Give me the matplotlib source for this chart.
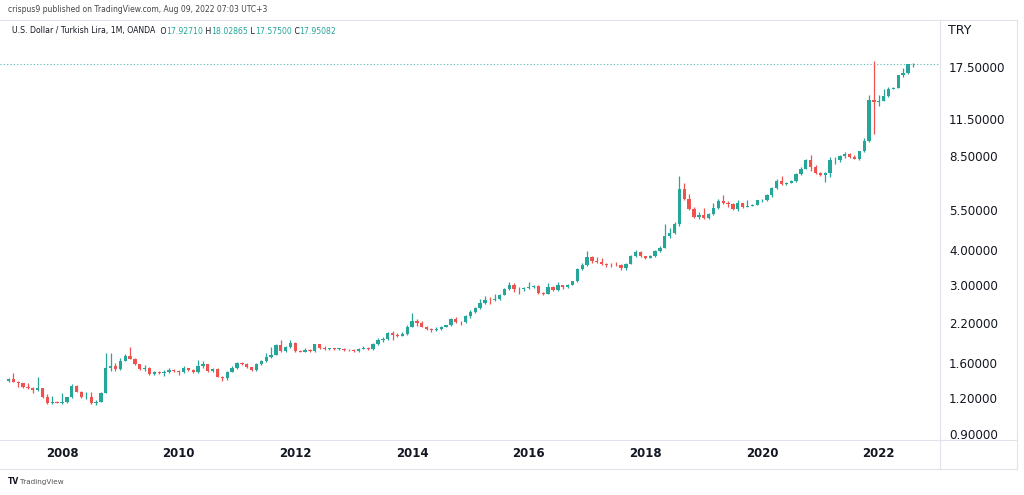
import numpy as np
import pandas as pd
import matplotlib
matplotlib.use("Agg")
import matplotlib.pyplot as plt
from matplotlib.lines import Line2D
from matplotlib.ticker import FixedLocator, NullLocator

# USD/TRY, velas mensuales (OANDA), desde feb-2007 hasta ago-2022
first_month = "2007-02"

opens = [1.382, 1.404, 1.374, 1.356, 1.315, 1.305, 1.280, 1.300, 1.210, 1.158, 1.168,
         1.158, 1.166, 1.210, 1.330, 1.267, 1.211, 1.218, 1.154, 1.170, 1.258, 1.530, 1.560,
         1.520, 1.628, 1.695, 1.650, 1.580, 1.518, 1.530, 1.458, 1.490, 1.475, 1.490, 1.515,
         1.495, 1.480, 1.530, 1.515, 1.480, 1.560, 1.580, 1.500, 1.520, 1.432, 1.420, 1.490,
         1.535, 1.594, 1.585, 1.545, 1.512, 1.590, 1.620, 1.680, 1.710, 1.850, 1.760, 1.820,
         1.885, 1.765, 1.750, 1.780, 1.758, 1.860, 1.800, 1.790, 1.800, 1.790, 1.790, 1.778,
         1.770, 1.755, 1.795, 1.805, 1.785, 1.865, 1.925, 1.945, 2.040, 2.010, 1.990, 2.020,
         2.140, 2.250, 2.210, 2.140, 2.100, 2.085, 2.100, 2.140, 2.170, 2.280, 2.225, 2.218,
         2.330, 2.420, 2.500, 2.600, 2.665, 2.655, 2.680, 2.770, 2.910, 3.010, 2.915, 2.905,
         2.920, 2.960, 2.970, 2.820, 2.800, 2.950, 2.880, 2.990, 2.960, 3.000, 3.090, 3.430,
         3.520, 3.760, 3.640, 3.630, 3.550, 3.535, 3.520, 3.515, 3.450, 3.560, 3.800, 3.935,
         3.790, 3.740, 3.800, 3.960, 4.060, 4.480, 4.570, 4.910, 6.550, 6.020, 5.560, 5.200,
         5.290, 5.150, 5.330, 5.600, 5.940, 5.810, 5.780, 5.560, 5.810, 5.650, 5.710, 5.750,
         5.950, 5.990, 6.220, 6.580, 6.970, 6.790, 6.850, 6.970, 7.350, 7.700, 8.280, 7.820,
         7.430, 7.300, 7.420, 8.230, 8.270, 8.500, 8.690, 8.450, 8.330, 8.850, 9.600, 13.400,
         13.150, 13.330, 13.850, 14.700, 14.830, 16.400, 16.650, 17.92710]

highs = [1.420, 1.470, 1.380, 1.362, 1.360, 1.312, 1.430, 1.310, 1.240, 1.220, 1.178,
         1.250, 1.215, 1.345, 1.340, 1.275, 1.265, 1.260, 1.180, 1.265, 1.730, 1.735, 1.600,
         1.660, 1.720, 1.823, 1.670, 1.590, 1.570, 1.550, 1.500, 1.500, 1.510, 1.530, 1.520,
         1.510, 1.560, 1.540, 1.520, 1.640, 1.620, 1.590, 1.530, 1.530, 1.440, 1.500, 1.560,
         1.610, 1.610, 1.600, 1.550, 1.600, 1.640, 1.730, 1.820, 1.870, 1.920, 1.840, 1.920,
         1.900, 1.780, 1.800, 1.790, 1.870, 1.870, 1.830, 1.810, 1.810, 1.810, 1.800, 1.790,
         1.790, 1.810, 1.830, 1.820, 1.880, 1.960, 1.970, 2.060, 2.070, 2.030, 2.050, 2.170,
         2.390, 2.280, 2.250, 2.150, 2.120, 2.140, 2.150, 2.180, 2.290, 2.310, 2.250, 2.350,
         2.450, 2.520, 2.670, 2.740, 2.720, 2.800, 2.790, 2.920, 3.070, 3.050, 2.950, 2.960,
         3.080, 3.000, 2.990, 2.840, 3.040, 2.980, 3.070, 3.000, 3.020, 3.110, 3.450, 3.590,
         3.940, 3.800, 3.760, 3.720, 3.600, 3.580, 3.630, 3.550, 3.590, 3.830, 3.990, 3.950,
         3.810, 3.840, 3.980, 4.100, 4.920, 4.770, 4.980, 7.220, 6.850, 6.250, 5.620, 5.400,
         5.600, 5.360, 5.830, 6.000, 6.240, 5.920, 5.830, 5.990, 5.850, 5.960, 5.800, 5.990,
         6.030, 6.260, 6.640, 7.050, 7.250, 6.900, 7.000, 7.420, 7.800, 8.320, 8.580, 7.900,
         7.500, 7.470, 8.470, 8.470, 8.600, 8.800, 8.750, 8.620, 8.900, 9.850, 13.940, 18.360,
         13.940, 14.700, 14.950, 14.950, 16.450, 17.380, 17.990, 18.02865]

lows = [1.375, 1.368, 1.320, 1.305, 1.298, 1.250, 1.270, 1.200, 1.150, 1.150, 1.152,
        1.148, 1.158, 1.200, 1.260, 1.205, 1.195, 1.150, 1.140, 1.165, 1.250, 1.500, 1.500,
        1.510, 1.620, 1.645, 1.570, 1.510, 1.500, 1.450, 1.450, 1.460, 1.440, 1.470, 1.480,
        1.450, 1.470, 1.500, 1.470, 1.470, 1.540, 1.490, 1.480, 1.425, 1.385, 1.390, 1.480,
        1.520, 1.570, 1.530, 1.500, 1.500, 1.570, 1.610, 1.670, 1.700, 1.740, 1.740, 1.800,
        1.750, 1.740, 1.740, 1.750, 1.750, 1.790, 1.780, 1.775, 1.770, 1.775, 1.760, 1.765,
        1.745, 1.750, 1.785, 1.770, 1.775, 1.850, 1.900, 1.920, 1.920, 1.965, 1.980, 2.010,
        2.130, 2.160, 2.130, 2.090, 2.060, 2.070, 2.080, 2.130, 2.150, 2.200, 2.180, 2.200,
        2.300, 2.400, 2.480, 2.580, 2.580, 2.630, 2.660, 2.760, 2.890, 2.840, 2.790, 2.860,
        2.900, 2.920, 2.800, 2.780, 2.790, 2.870, 2.870, 2.900, 2.940, 2.990, 3.070, 3.390,
        3.500, 3.580, 3.600, 3.520, 3.480, 3.480, 3.500, 3.400, 3.400, 3.550, 3.780, 3.780,
        3.700, 3.720, 3.770, 3.920, 4.050, 4.400, 4.540, 4.850, 5.950, 5.500, 5.150, 5.120,
        5.120, 5.130, 5.300, 5.550, 5.780, 5.620, 5.520, 5.450, 5.600, 5.630, 5.680, 5.720,
        5.880, 5.920, 6.100, 6.500, 6.750, 6.720, 6.830, 6.920, 7.330, 7.680, 7.530, 7.350,
        7.240, 6.900, 7.200, 7.970, 8.150, 8.400, 8.400, 8.300, 8.280, 8.800, 9.520, 10.220,
        12.750, 13.250, 13.750, 14.600, 14.750, 16.100, 16.550, 17.57500]

closes = [1.404, 1.374, 1.356, 1.315, 1.305, 1.280, 1.300, 1.210, 1.158, 1.168, 1.160,
          1.166, 1.210, 1.330, 1.267, 1.211, 1.218, 1.154, 1.170, 1.258, 1.530, 1.560, 1.520,
          1.628, 1.695, 1.650, 1.580, 1.518, 1.530, 1.458, 1.490, 1.475, 1.490, 1.515, 1.495,
          1.480, 1.530, 1.515, 1.480, 1.560, 1.580, 1.500, 1.520, 1.432, 1.420, 1.490, 1.535,
          1.594, 1.585, 1.545, 1.512, 1.590, 1.620, 1.680, 1.710, 1.850, 1.760, 1.820, 1.885,
          1.765, 1.750, 1.780, 1.758, 1.860, 1.800, 1.790, 1.800, 1.790, 1.790, 1.778, 1.770,
          1.755, 1.795, 1.805, 1.785, 1.865, 1.925, 1.945, 2.040, 2.010, 1.990, 2.020, 2.140,
          2.250, 2.210, 2.140, 2.100, 2.085, 2.100, 2.140, 2.170, 2.280, 2.225, 2.218, 2.330,
          2.420, 2.500, 2.600, 2.665, 2.655, 2.680, 2.770, 2.910, 3.010, 2.915, 2.905, 2.920,
          2.960, 2.970, 2.820, 2.800, 2.950, 2.880, 2.990, 2.960, 3.000, 3.090, 3.430, 3.520,
          3.760, 3.640, 3.630, 3.550, 3.535, 3.520, 3.515, 3.450, 3.560, 3.800, 3.935, 3.790,
          3.740, 3.800, 3.960, 4.060, 4.480, 4.570, 4.910, 6.550, 6.020, 5.560, 5.200, 5.290,
          5.150, 5.330, 5.600, 5.940, 5.810, 5.780, 5.560, 5.810, 5.650, 5.710, 5.750, 5.950,
          5.990, 6.220, 6.580, 6.970, 6.790, 6.850, 6.970, 7.350, 7.700, 8.280, 7.820, 7.430,
          7.300, 7.420, 8.230, 8.270, 8.500, 8.690, 8.450, 8.330, 8.850, 9.600, 13.400, 13.150,
          13.330, 13.850, 14.700, 14.830, 16.400, 16.650, 17.92710, 17.95082]

year_labels = [2008, 2010, 2012, 2014, 2016, 2018, 2020, 2022]
price_ticks = [0.9, 1.2, 1.6, 2.2, 3.0, 4.0, 5.5, 8.5, 11.5, 17.5]

UP = "#26a69a"
DOWN = "#ef5350"
TXT = "#131722"
BORDER = "#e0e3eb"

o = np.array(opens)
h = np.array(highs)
l = np.array(lows)
c = np.array(closes)
months = pd.period_range(first_month, periods=len(c), freq="M")
x = np.arange(len(c))
cols = np.where(c >= o, UP, DOWN)

W, H = 1024, 495
fig = plt.figure(figsize=(W / 100, H / 100), dpi=100)
ax = fig.add_axes([0, 55 / H, 940 / W, 420 / H])

# mechas y cuerpos
ax.vlines(x, l, h, colors=cols, linewidth=0.9, zorder=2)
bottom = np.minimum(o, c)
height = np.maximum(np.abs(c - o), bottom * 0.004)
ax.bar(x, height, bottom=bottom, width=0.68, color=cols, linewidth=0, zorder=3)

# linea del ultimo precio
ax.axhline(c[-1], color=UP, linestyle=(0, (1, 2)), linewidth=0.8, alpha=0.8, zorder=1)

ax.set_yscale("log")
ax.set_ylim(0.857, 25.6)
ax.set_xlim(-1.75, 191.6)

# eje de precios a la derecha
ax.yaxis.tick_right()
ax.yaxis.set_major_locator(FixedLocator(price_ticks))
ax.yaxis.set_minor_locator(NullLocator())
ax.set_yticklabels([f"{v:.5f}" for v in price_ticks])
ax.tick_params(axis="y", length=0, pad=6.5, labelsize=8.6, labelcolor=TXT)

# eje de tiempo
year_pos = [list(months.year * 100 + months.month).index(yr * 100 + 1) for yr in year_labels]
ax.set_xticks(year_pos)
ax.set_xticklabels([str(yr) for yr in year_labels], fontweight="bold")
ax.tick_params(axis="x", length=0, pad=5, labelsize=8.5, labelcolor=TXT)

for s in ["top", "left"]:
    ax.spines[s].set_visible(False)
for s in ["right", "bottom"]:
    ax.spines[s].set_color(BORDER)
    ax.spines[s].set_linewidth(0.8)

# bordes del panel
def fline(x0, y0, x1, y1):
    fig.add_artist(Line2D([x0 / W, x1 / W], [1 - y0 / H, 1 - y1 / H], color=BORDER, lw=0.8))

fline(0, 20, 1017, 20)
fline(940, 440, 1017, 440)
fline(940, 440, 940, 469)
fline(1017, 20, 1017, 469)
fline(0, 469, 1017, 469)

# textos de cabecera
fig.text(8 / W, 1 - 10 / H, "crispus9 published on TradingView.com, Aug 09, 2022 07:03 UTC+3",
         fontsize=5.5, color="#444444", va="center")

t = fig.text(12 / W, 1 - 31 / H, "U.S. Dollar / Turkish Lira, 1M, OANDA ",
             fontsize=5.6, color=TXT, va="center")
for letter, val in [("O", opens[-1]), ("H", highs[-1]), ("L", lows[-1]), ("C", closes[-1])]:
    t = ax.annotate(" " + letter, xy=(1, 0), xycoords=t, va="bottom", fontsize=5.6, color=TXT)
    t = ax.annotate(f"{val:.5f}", xy=(1, 0), xycoords=t, va="bottom", fontsize=5.6, color=UP)

fig.text(948 / W, 1 - 31 / H, "TRY", fontsize=9, color=TXT, va="center")

fig.text(8 / W, 1 - 482 / H, "TV", fontsize=5.5, fontweight="bold", color=TXT, va="center")
fig.text(20 / W, 1 - 482 / H, "TradingView", fontsize=5.2, color="#555555", va="center")

fig.savefig("out.png", dpi=100)
